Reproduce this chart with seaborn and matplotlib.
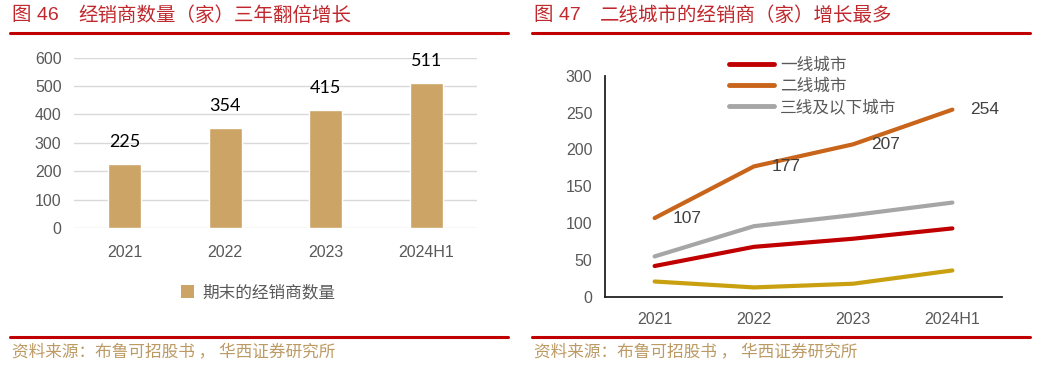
import matplotlib
matplotlib.use("Agg")
import matplotlib.pyplot as plt
import seaborn as sns
import pandas as pd
from matplotlib.lines import Line2D
from matplotlib.patches import Patch

# ---------------- data ----------------
years = ["2021", "2022", "2023", "2024H1"]
dealers_total = [225, 354, 415, 511]
tier1 = [42, 68, 79, 93]
tier2 = [107, 177, 207, 254]
tier3 = [55, 96, 111, 128]
other = [21, 13, 18, 36]
series_names = ["一线城市", "二线城市", "三线及以下城市"]
bar_label = "期末的经销商数量"
fig_no_left = "图 46"
fig_no_right = "图 47"
title_left = "经销商数量（家）三年翻倍增长"
title_right = "二线城市的经销商（家）增长最多"
source_text = "资料来源：布鲁可招股书 ， 华西证券研究所"

# ---------------- style ----------------
sns.set_theme(style="white")
plt.rcParams["font.family"] = ["Liberation Sans", "Noto Sans CJK SC", "DejaVu Sans"]
CJK = ["Noto Sans CJK SC", "DejaVu Sans"]
MIX = ["Liberation Sans", "Noto Sans CJK SC"]

W, H = 1042, 367
fig = plt.figure(figsize=(W / 100, H / 100), dpi=100)


def fx(x):
    return x / W


def fy(y):
    return 1 - y / H


RED = "#C00000"
TITLE = "#C0282D"
TAN = "#BC9A63"
BAR = "#CBA466"
TICK = "#595959"

# headers / footers
for x0, x1, no, title, tx in [(10, 508, fig_no_left, title_left, 78),
                              (532, 1030, fig_no_right, title_right, 600)]:
    fig.text(fx(x0 + 2), fy(15), no, color=TITLE, fontsize=14,
             family=MIX, va="center", ha="left")
    fig.text(fx(tx), fy(15), title, color=TITLE, fontsize=14,
             family=CJK, va="center", ha="left")
    fig.add_artist(Line2D([fx(x0), fx(x1)], [fy(33), fy(33)], color=RED, lw=2.2,
                          transform=fig.transFigure))
    fig.add_artist(Line2D([fx(x0), fx(x1)], [fy(337), fy(337)], color=RED, lw=2.2,
                          transform=fig.transFigure))
    fig.text(fx(x0 + 2), fy(352), source_text, color=TAN, fontsize=12,
             family=CJK, va="center", ha="left")

# ---------------- left: bar chart ----------------
ax1 = fig.add_axes([fx(74), fy(228), fx(477) - fx(74), (228 - 57.7) / H])
sns.barplot(x=years, y=dealers_total, color=BAR, saturation=1, width=0.33, ax=ax1)
ax1.set_ylim(0, 600)
ax1.set_xlim(-0.5, 3.5)
ax1.set_yticks(range(0, 601, 100))
ax1.yaxis.grid(True, color="#D9D9D9", lw=1)
ax1.set_axisbelow(True)
for s in ax1.spines.values():
    s.set_visible(False)
ax1.tick_params(axis="y", length=0, pad=9, labelsize=11.5, labelcolor=TICK)
ax1.tick_params(axis="x", length=0, pad=12, labelsize=11.5, labelcolor=TICK)
ax1.set_xlabel("")
ax1.set_ylabel("")
for i, v in enumerate(dealers_total):
    ax1.annotate(str(v), (i, v), xytext=(0, 22), textcoords="offset pixels",
                 ha="center", va="center", fontsize=13, family=["Lato"], color="#000000")
fig.legend(handles=[Patch(facecolor=BAR, edgecolor="none", label=bar_label)],
           loc="center", bbox_to_anchor=(fx(258), fy(293)), frameon=False,
           prop={"family": CJK, "size": 12}, handlelength=0.8, handleheight=0.8,
           handletextpad=0.45, labelcolor=TICK)

# ---------------- right: line chart ----------------
ax2 = fig.add_axes([fx(605), fy(297), fx(1002) - fx(605), (297 - 75.7) / H])
xs = list(range(len(years)))
df = pd.DataFrame({
    "x": xs * 3,
    "v": tier1 + tier2 + tier3,
    "s": sum([[n] * len(years) for n in series_names], []),
})
palette = {"一线城市": "#C00000", "二线城市": "#C8651B", "三线及以下城市": "#A6A6A6"}
sns.lineplot(data=df, x="x", y="v", hue="s", palette=palette, lw=3,
             solid_capstyle="round", legend=False, ax=ax2, sort=False)
sns.lineplot(x=xs, y=other, color="#C9A00F", lw=3, solid_capstyle="round",
             legend=False, ax=ax2)
for i, v in enumerate(tier2):
    ax2.annotate(str(v), (i, v), xytext=(32, 0), textcoords="offset pixels",
                 ha="center", va="center", fontsize=12.5, color="#404040")
ax2.set_xlim(-0.5, 3.5)
ax2.set_ylim(0, 300)
ax2.set_xticks(xs)
ax2.set_xticklabels(years)
ax2.set_xticks([0.5, 1.5, 2.5, 3.5], minor=True)
ax2.set_yticks(range(0, 301, 50))
ax2.set_yticks([300], minor=True)
ax2.tick_params(axis="x", which="major", length=0, pad=11, labelsize=11.5, labelcolor=TICK)
ax2.tick_params(axis="y", which="major", length=0, pad=9, labelsize=11.5, labelcolor=TICK)
ax2.tick_params(axis="x", which="minor", direction="in", length=6, width=1.3, color="#222222")
ax2.tick_params(axis="y", which="minor", direction="in", length=6, width=1.3, color="#222222")
for k in ["top", "right"]:
    ax2.spines[k].set_visible(False)
for k in ["left", "bottom"]:
    ax2.spines[k].set_color("#222222")
    ax2.spines[k].set_linewidth(1.3)
ax2.set_xlabel("")
ax2.set_ylabel("")
ax2.grid(False)
handles = [Line2D([], [], color=palette[n], lw=3.5, solid_capstyle="round", label=n)
           for n in series_names]
fig.legend(handles=handles, loc="upper left", bbox_to_anchor=(fx(714), fy(42)),
           frameon=False, prop={"family": CJK, "size": 12}, handlelength=2.7,
           handletextpad=0.35, labelspacing=0.25, labelcolor=TICK)

fig.savefig("out.png", dpi=100)
